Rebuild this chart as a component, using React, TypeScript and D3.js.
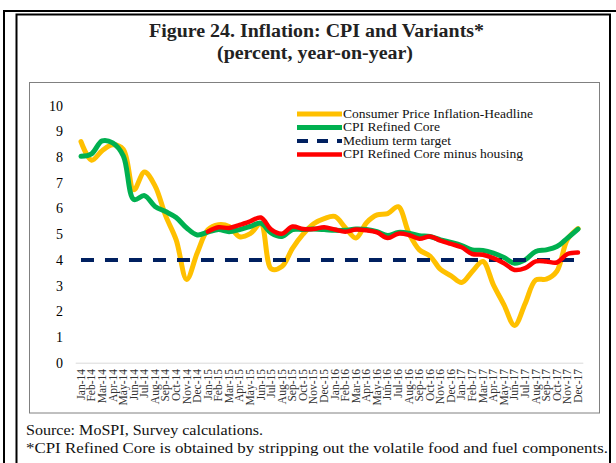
import React from 'react';
import * as d3 from 'd3';

const monthNames = ['Jan', 'Feb', 'Mar', 'Apr', 'May', 'Jun', 'Jul', 'Aug', 'Sep', 'Oct', 'Nov', 'Dec'];
const years = ['14', '15', '16', '17'];
const months = years.flatMap(y => monthNames.map(m => `${m}-${y}`));

const headline = [
  8.6, 7.88, 8.25, 8.48, 8.3, 6.73, 7.42, 6.88, 5.72, 4.78, 3.24, 4.28,
  5.17, 5.37, 5.3, 4.9, 5.02, 5.4, 3.65, 3.74, 4.45, 5.0, 5.41, 5.61,
  5.69, 5.25, 4.85, 5.45, 5.75, 5.8, 6.07, 5.05, 4.39, 4.15, 3.63, 3.38,
  3.12, 3.55, 3.94, 3.03, 2.25, 1.45, 2.3, 3.22, 3.25, 3.56, 4.8, 5.22,
];
const refinedCore = [
  8.03, 8.13, 8.63, 8.55, 8.05, 6.35, 6.5, 6.08, 5.88, 5.65, 5.24, 4.97,
  5.08, 5.18, 5.1, 5.18, 5.3, 5.43, 5.04, 4.91, 5.18, 5.18, 5.2, 5.18,
  5.15, 5.15, 5.2, 5.18, 5.1, 4.95, 5.07, 5.04, 4.94, 4.91, 4.78, 4.68,
  4.56, 4.39, 4.37, 4.26, 4.09, 3.87, 4.0, 4.33, 4.39, 4.52, 4.85, 5.2,
];
const coreMinusHousing: (number | null)[] = [
  null, null, null, null, null, null, null, null, null, null, null, null,
  5.1, 5.27, 5.24, 5.36, 5.5, 5.65, 5.18, 5.02, 5.3, 5.2, 5.2, 5.27,
  5.18, 5.1, 5.18, 5.15, 5.07, 4.85, 5.02, 4.97, 4.82, 4.91, 4.75, 4.62,
  4.49, 4.23, 4.2, 4.07, 3.87, 3.61, 3.68, 3.94, 3.94, 3.9, 4.23, 4.29,
];
const target = months.map(() => 4);
const yTicks = [0, 1, 2, 3, 4, 5, 6, 7, 8, 9, 10];

// legend text widths as measured on the reference
const series = [
  { name: 'Consumer Price Inflation-Headline', values: headline as (number | null)[], color: '#FFC000', width: 5, dash: '', textW: 190 },
  { name: 'CPI Refined Core', values: refinedCore as (number | null)[], color: '#00B050', width: 5, dash: '', textW: 97 },
  { name: 'Medium term target', values: target as (number | null)[], color: '#002060', width: 4, dash: '13,11', textW: 108 },
  { name: 'CPI Refined Core minus housing', values: coreMinusHousing, color: '#FF0000', width: 4.5, dash: '', textW: 180 },
];

const font = '"Liberation Serif", "Times New Roman", serif';

export default function App() {
  const x = d3.scalePoint<string>().domain(months).range([75.7, 583.3]).padding(0.5);
  const y = d3.scaleLinear().domain([0, 10]).range([362.7, 105.7]);

  const line = d3.line<number | null>()
    .defined(d => d != null)
    .x((_, i) => x(months[i]) as number)
    .y(d => y(d as number))
    .curve(d3.curveCatmullRom.alpha(0.5));

  const dashedLine = d3.line<number | null>()
    .x((_, i) => x(months[i]) as number)
    .y(d => y(d as number));

  return (
    <svg width={616} height={463} style={{ position: 'absolute', left: 0, top: 0, background: '#fff' }} fontFamily={font}>
      {/* frames */}
      <line x1={4} y1={10} x2={4} y2={463} stroke="#000" strokeWidth={2} />
      <line x1={3} y1={11} x2={616} y2={11} stroke="#000" strokeWidth={2} />
      <rect x={16.5} y={14.5} width={593.5} height={460} fill="none" stroke="#000" strokeWidth={2} />
      <rect x={29.5} y={82.5} width={570} height={330.5} fill="none" stroke="#808080" strokeWidth={1} />

      {/* title */}
      <text x={316.5} y={37} textAnchor="middle" fontSize={18} fontWeight="bold" fill="#222"
        textLength={335} lengthAdjust="spacingAndGlyphs">
        Figure 24. Inflation: CPI and Variants*
      </text>
      <text x={315} y={59} textAnchor="middle" fontSize={18} fontWeight="bold" fill="#222"
        textLength={196} lengthAdjust="spacingAndGlyphs">
        (percent, year-on-year)
      </text>

      {/* y axis labels */}
      {yTicks.map(t => (
        <text key={t} x={63} y={y(t)} dy="0.35em" textAnchor="end" fontSize={14} fill="#000">{t}</text>
      ))}

      {/* x axis */}
      <line x1={75.7} x2={583.3} y1={363.2} y2={363.2} stroke="#d9d9d9" strokeWidth={1} />
      {months.map(m => (
        <text key={m} transform={`translate(${x(m)},${369}) rotate(-90)`} textAnchor="end" dy="0.33em"
          fontSize={11.5} fill="#333">{m}</text>
      ))}

      {/* series */}
      {series.map(s => (
        <path key={s.name}
          d={(s.dash ? dashedLine : line)(s.values) || ''}
          fill="none" stroke={s.color} strokeWidth={s.width}
          strokeDasharray={s.dash || undefined} strokeLinejoin="round" strokeLinecap={s.dash ? 'butt' : 'round'} />
      ))}

      {/* legend */}
      {series.map((s, i) => (
        <g key={s.name} transform={`translate(297,${114 + i * 13.5})`}>
          <line x1={0} x2={45} y1={0} y2={0} stroke={s.color} strokeWidth={s.width}
            strokeDasharray={s.dash ? '11,9' : undefined} />
          <text x={46} y={0} dy="0.33em" fontSize={11.5} fill="#111"
            textLength={s.textW} lengthAdjust="spacingAndGlyphs">{s.name}</text>
        </g>
      ))}

      {/* notes */}
      <text x={26} y={435} fontSize={15.5} fill="#111" textLength={237} lengthAdjust="spacingAndGlyphs">
        Source: MoSPI, Survey calculations.
      </text>
      <text x={26} y={453} fontSize={15.5} fill="#111" textLength={582} lengthAdjust="spacingAndGlyphs">
        *CPI Refined Core is obtained by stripping out the volatile food and fuel components.
      </text>
    </svg>
  );
}
